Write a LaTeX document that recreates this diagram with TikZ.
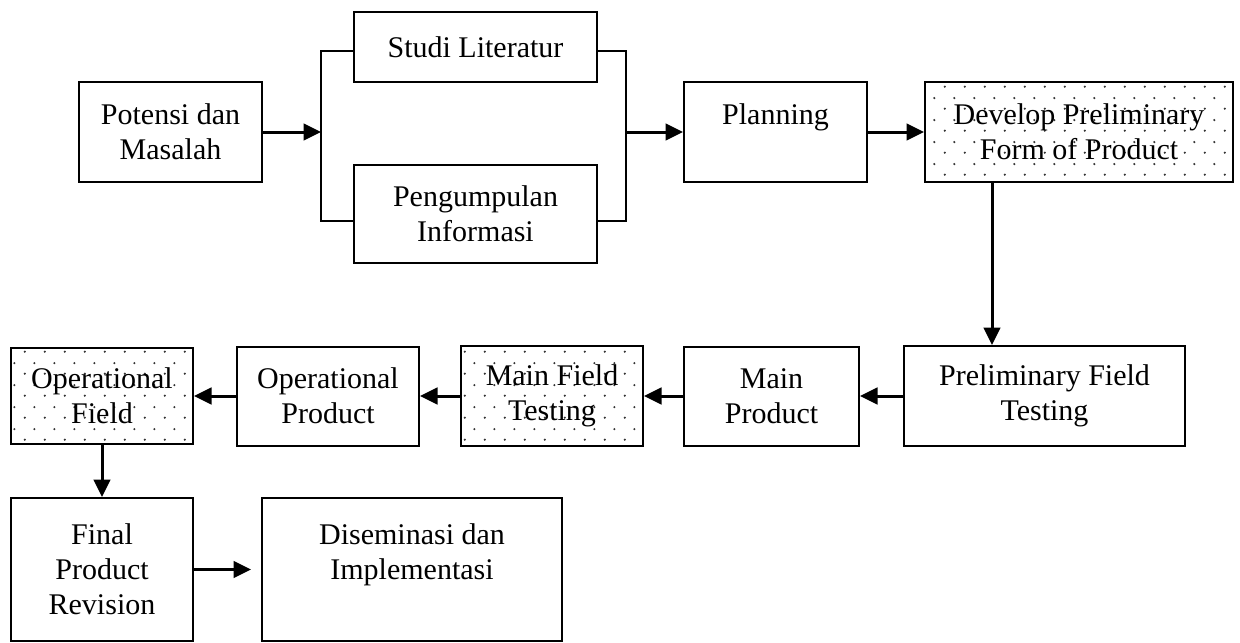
\documentclass[tikz,border=0pt]{standalone}
\usepackage{fontspec}
\setmainfont{Liberation Serif}
\usetikzlibrary{arrows.meta,patterns.meta}

% loose dot screen for the highlighted stages
\tikzdeclarepattern{
  name=sparse dots,
  type=uncolored,
  bottom left={(0pt,0pt)},
  top right={(8pt,8.8pt)},
  tile size={(8pt,8.8pt)},
  code={
    \fill (2pt,2.2pt) circle (0.5pt);
    \fill (6pt,6.6pt) circle (0.5pt);
  }
}

\tikzset{stage box/.style 2 args={
    draw, line width=0.8pt, align=center, inner sep=0pt,
    minimum width=#1*0.4pt, minimum height=#2*0.4pt,
    font=\fontsize{12}{14}\selectfont,
  },
  dotted box/.style={pattern=sparse dots, pattern color=black!80},
  flow/.style={line width=1.2pt, -{Triangle[length=7pt,width=6.6pt]}},
  bracket/.style={line width=0.8pt},
}

\begin{document}
\begin{tikzpicture}[x=0.4pt, y=-0.4pt]
\useasboundingbox (0,0) rectangle (1240,642);

% top row
\node[stage box={183}{100}] (pot) at (170.5,132) {Potensi dan\\Masalah};
\node[stage box={243}{70}] (studi) at (475.5,47) {Studi Literatur};
\node[stage box={243}{98}] (info) at (475.5,214) {Pengumpulan\\Informasi};
\node[stage box={183}{100}] (plan) at (775.5,132) {Planning\\~};
\node[stage box={308}{100}, dotted box] (dev) at (1079,132) {Develop Preliminary\\Form of Product};

% bottom rows
\node[stage box={281}{100}] (pft) at (1044.5,396) {Preliminary Field\\Testing};
\node[stage box={175}{99}] (main) at (771.5,396) {Main\\Product};
\node[stage box={182}{100}, dotted box] (mft) at (552,396) {Main Field\\Testing};
\node[stage box={182}{99}] (opp) at (328,396) {Operational\\Product};
\node[stage box={182}{96}, dotted box] (opf) at (102,396) {Operational\\Field};
\node[stage box={182}{143}] (fin) at (102,569.5) {Final\\Product\\Revision};
\node[stage box={300}{143}] (dis) at (412,569.5) {Diseminasi dan\\Implementasi\\~};

% split and join around the two parallel stages
\coordinate (split) at (321,132);
\coordinate (join) at (626,132);
\coordinate (ltop) at (321,51);
\coordinate (lbot) at (321,221);
\coordinate (rtop) at (626,51);
\coordinate (rbot) at (626,221);
\draw[bracket] (studi.west |- ltop) -- (ltop) -- (lbot) -- (info.west |- lbot);
\draw[bracket] (studi.east |- rtop) -- (rtop) -- (rbot) -- (info.east |- rbot);

\draw[flow] (pot) -- (split);
\draw[flow] (join) -- (plan);
\draw[flow] (plan) -- (dev);

\coordinate (down) at (992,0);
\draw[flow] (dev.south -| down) -- (pft.north -| down);

\foreach \from/\to in {pft/main, main/mft, mft/opp, opp/opf}
  \draw[flow] (\from) -- (\to);

\draw[flow] (opf) -- (fin);
\draw[flow, shorten >=4pt] (fin) -- (dis);
\end{tikzpicture}
\end{document}
